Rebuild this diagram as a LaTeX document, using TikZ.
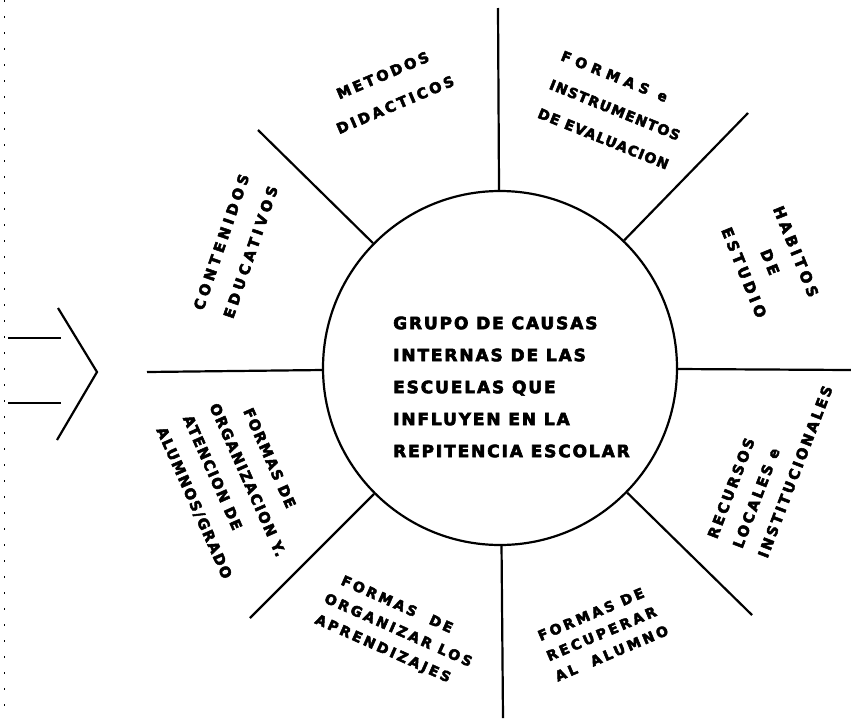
\documentclass[tikz,border=0pt]{standalone}
\usepackage{fontspec}
\newfontfamily\lettering[FakeBold=3.5]{DejaVu Sans}
\newcommand\letr[3]{\lettering\bfseries\addfontfeature{LetterSpace=#3}\fontsize{#1}{#2}\selectfont}
\tikzset{
  spoke/.style={line width=2.2pt},
  tag/.style={inner sep=0pt, align=center},
}
\begin{document}
\begin{tikzpicture}[x=1pt,y=-1pt]
  \useasboundingbox (0,0) rectangle (851,718);
  \node[circle, draw, spoke, minimum size=354pt, inner sep=0pt] (core) at (500,368) {};
  \node[tag, align=left, anchor=west, font=\letr{17}{32}{11}] (cause) at (393,387)
    {GRUPO DE CAUSAS\\INTERNAS DE LAS\\ESCUELAS QUE\\INFLUYEN EN LA\\REPITENCIA ESCOLAR};

  \coordinate (n) at (498,8);
  \coordinate (ne) at (748,113);
  \coordinate (e) at (851,370);
  \coordinate (se) at (752,615);
  \coordinate (s) at (503,718);
  \coordinate (sw) at (250,618);
  \coordinate (w) at (147,372);
  \coordinate (nw) at (258,130);
  \foreach \e in {n,ne,e,se,s,sw,w,nw}
    \draw[spoke] (core) -- (\e);

  \node[tag, rotate=23, font=\letr{14.5}{32}{20}] (metodos) at (389,90) {METODOS\\DIDACTICOS};
  \node[tag, rotate=-22, align=left, font=\letr{14}{31}{9}] (evalua) at (615,110)
    {{\addfontfeature{LetterSpace=38}FORMAS e}\\INSTRUMENTOS\\DE EVALUACION};
  \node[tag, rotate=-68, font=\letr{15}{28}{24}] (habitos) at (770,262) {HABITOS\\DE\\ESTUDIO};
  \node[tag, rotate=69, align=left, font=\letr{14.5}{27}{18}] (recursos) at (770,462)
    {RECURSOS\\LOCALES e\\INSTITUCIONALES};
  \node[tag, rotate=23, align=left, font=\letr{14}{22}{21}] (recupera) at (603,633)
    {FORMAS DE\\RECUPERAR\\AL \ ALUMNO};
  \node[tag, rotate=-24, align=left, font=\letr{14}{23}{20}] (aprende) at (398,631)
    {\hspace*{8pt}FORMAS \ DE\\ORGANIZAR LOS\\APRENDIZAJES};
  \node[tag, rotate=-66, align=left, font=\letr{14.5}{29}{11}] (atencion) at (234,486)
    {\hspace*{18pt}FORMAS DE\\ORGANIZACION Y.\\ATENCION DE\\ALUMNOS/GRADO};
  \node[tag, rotate=71, font=\letr{14.5}{31}{27}] (conten) at (236,247) {CONTENIDOS\\EDUCATIVOS};

  \draw[spoke] (58,308) -- (97,372) -- (57,440);
  \draw[spoke] (8,338) -- (61,338);
  \draw[spoke] (8,403) -- (61,403);
  \draw[line width=1pt, dash pattern=on 2pt off 14pt] (4,0) -- (4,718);
\end{tikzpicture}
\end{document}
